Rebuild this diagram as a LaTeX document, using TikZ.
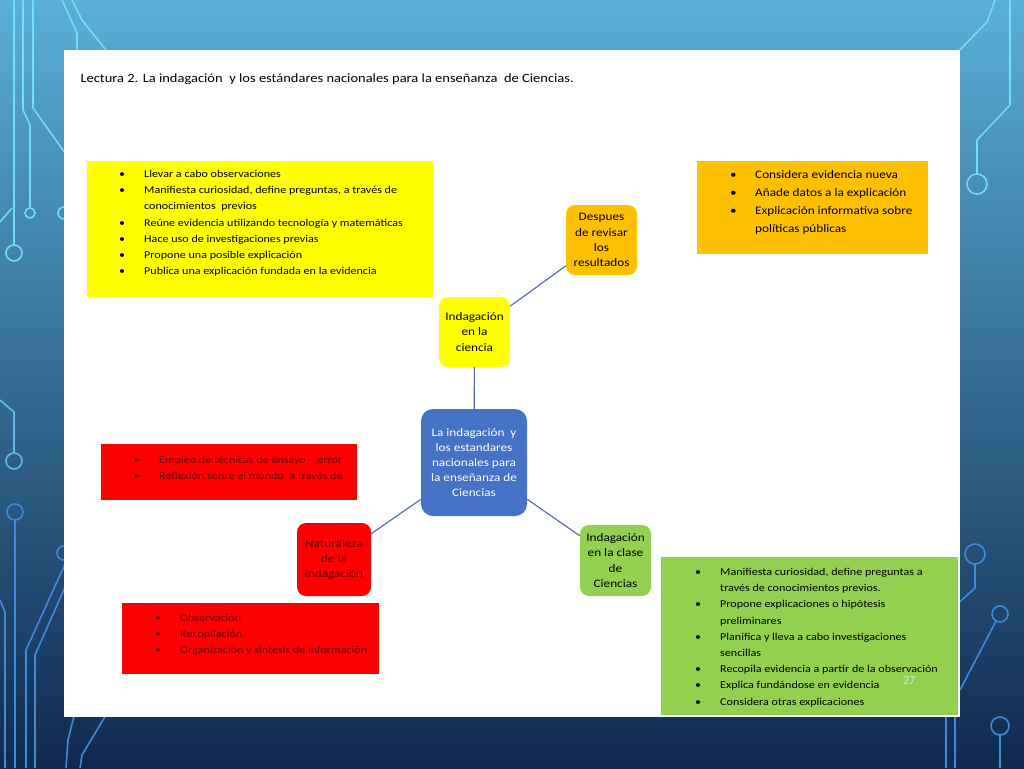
\documentclass[tikz,border=0pt]{standalone}
\usepackage{fontspec}
\setmainfont{Carlito}[FakeStretch=1.15]
\newfontfamily\numfont{Poppins}
\usepackage{tikz}
\definecolor{amarillo}{HTML}{FFFF00}
\definecolor{naranja}{HTML}{FFC000}
\definecolor{rojo}{HTML}{FF0000}
\definecolor{verde}{HTML}{92D050}
\definecolor{azul}{HTML}{4472C4}
\definecolor{linea}{HTML}{4A6AA5}
\definecolor{granate}{HTML}{6A0000}
\definecolor{cian}{HTML}{74DDF2}
\definecolor{celeste}{HTML}{3C8CDA}
\definecolor{fondoarriba}{HTML}{5AAFD6}
\definecolor{fondomedio}{HTML}{2678B6}
\definecolor{fondoabajo}{HTML}{10294F}

\newcommand{\vineta}{\makebox[25pt][l]{\textbullet}}
\newcommand{\sangria}{\hspace*{25pt}}

\begin{document}
\begin{tikzpicture}[x=1pt, y=-1pt,
  caja/.style={rounded corners=9pt, minimum width=71pt, minimum height=70pt,
    inner sep=0pt, align=center, font=\fontsize{11.5}{15.2}\selectfont},
  lista/.style={anchor=north west, inner sep=0pt, align=left,
    font=\fontsize{10.5}{16.2}\selectfont},
  enlace/.style={linea, line width=1.1pt},
  traza/.style={line width=1.6pt}]
  \useasboundingbox (0,0) rectangle (1024,768);
  % fondo de la diapositiva
  \shade[top color=fondoarriba, middle color=fondomedio, bottom color=fondoabajo]
    (0,0) rectangle (1024,768);
  % trazas de circuito, izquierda
  \draw[traza, cian] (14,0) -- (14,245) (14,253) circle (8);
  \draw[traza, cian] (23,0) -- (23,110) -- (30,125) -- (30,208) (30,213) circle (5);
  \draw[traza, cian] (0,222) -- (12,208);
  \draw[traza, cian] (33,0) -- (33,108) -- (70,160);
  \draw[traza, cian] (64,213) circle (6);
  \draw[traza, cian] (62,0) -- (77,33) -- (77,55);
  \draw[traza, cian] (72,0) -- (82,20) -- (110,55);
  \draw[traza, cian!60!celeste] (0,400) -- (14,412) -- (14,453) (14,461) circle (8);
  \draw[traza, celeste] (15,512) circle (8) (15,520) -- (15,768);
  \draw[traza, celeste] (0,600) -- (5,612) -- (5,768);
  \draw[traza, celeste] (64,553) circle (7);
  \draw[traza, celeste] (66,562) -- (26,650) -- (26,768);
  \draw[traza, celeste] (66,585) -- (35,655) -- (35,768);
  \draw[traza, celeste] (78,700) -- (68,740) -- (66,768);
  \draw[traza, celeste] (115,700) -- (82,755) -- (80,768);
  % trazas de circuito, derecha
  \draw[traza, cian] (1010,0) -- (1010,105) -- (977,140) -- (977,174) (977,184) circle (10);
  \draw[traza, cian] (995,0) -- (987,22) -- (950,60);
  \draw[traza, celeste] (975,554) circle (10) (975,564) -- (975,588) -- (955,606);
  \draw[traza, celeste] (1000,614) circle (8) (996,621) -- (960,690);
  \draw[traza, celeste] (946,690) -- (946,768) (955,690) -- (955,768);
  \draw[traza, celeste] (1000,726) circle (9) (1000,735) -- (1000,768);
  % hoja blanca
  \fill[white] (64,50) rectangle (960,717);
  \node[anchor=base west, font=\fontsize{12.6}{14}\selectfont] (titulo) at (77,82)
    {Lectura 2. La indagación~ y los estándares nacionales para la enseñanza~ de Ciencias.};

  % listas
  \fill[amarillo] (87,161) rectangle (433,297);
  \node[lista] (lista1) at (119,170) {\vineta Llevar a cabo observaciones\\
    \vineta Manifiesta curiosidad, define preguntas, a través de\\
    \sangria conocimientos~ previos\\
    \vineta Reúne evidencia utilizando tecnología y matemáticas\\
    \vineta Hace uso de investigaciones previas\\
    \vineta Propone una posible explicación\\
    \vineta Publica una explicación fundada en la evidencia};
  \fill[naranja] (697,161) rectangle (928,254);
  \node[lista, font=\fontsize{11.5}{18}\selectfont] (lista2) at (730,170)
    {\vineta Considera evidencia nueva\\
    \vineta Añade datos a la explicación\\
    \vineta Explicación informativa sobre\\
    \sangria políticas públicas};
  \fill[rojo] (101,444) rectangle (357,500);
  \node[lista, text=granate] (lista3) at (134,456)
    {\vineta Empleo de técnicas de ensayo – error\\
    \vineta Reflexión sobre el mundo~ a través de};
  \fill[rojo] (122,603) rectangle (379,674);
  \node[lista, text=granate] (lista4) at (155,614)
    {\vineta Observación\\
    \vineta Recopilación\\
    \vineta Organización y síntesis de información};
  \fill[verde] (661,557) rectangle (958,715);
  \node[lista] (lista5) at (695,568)
    {\vineta Manifiesta curiosidad, define preguntas a\\
    \sangria través de conocimientos previos.\\
    \vineta Propone explicaciones o hipótesis\\
    \sangria preliminares\\
    \vineta Planifica y lleva a cabo investigaciones\\
    \sangria sencillas\\
    \vineta Recopila evidencia a partir de la observación\\
    \vineta Explica fundándose en evidencia\\
    \vineta Considera otras explicaciones};

  % mapa central
  \node[caja, fill=azul, text=white, minimum width=106pt, minimum height=107pt,
    rounded corners=12pt] (centro) at (474,462.5)
    {La indagación~ y\\los estandares\\nacionales para\\la enseñanza de\\Ciencias};
  \node[caja, fill=amarillo] (ciencia) at (474.5,332) {Indagación\\en la\\ciencia};
  \node[caja, fill=naranja] (despues) at (601.5,240) {Despues\\de revisar\\los\\resultados};
  \node[caja, fill=rojo, text=granate, minimum width=74pt, minimum height=73pt]
    (naturaleza) at (334,559.5) {Naturaleza\\de la\\indagación};
  \node[caja, fill=verde, minimum height=71pt] (clase) at (615.5,560.5)
    {Indagación\\en la clase\\de\\Ciencias};
  \draw[enlace] (centro) -- (ciencia);
  \draw[enlace] (ciencia) -- (despues);
  \draw[enlace] (centro) -- (naturaleza);
  \draw[enlace] (centro) -- (clase);

  \node[font=\numfont\fontsize{11}{13}\selectfont, text=white!80!cyan, opacity=0.9]
    (pagina) at (909,680) {27};
\end{tikzpicture}
\end{document}
